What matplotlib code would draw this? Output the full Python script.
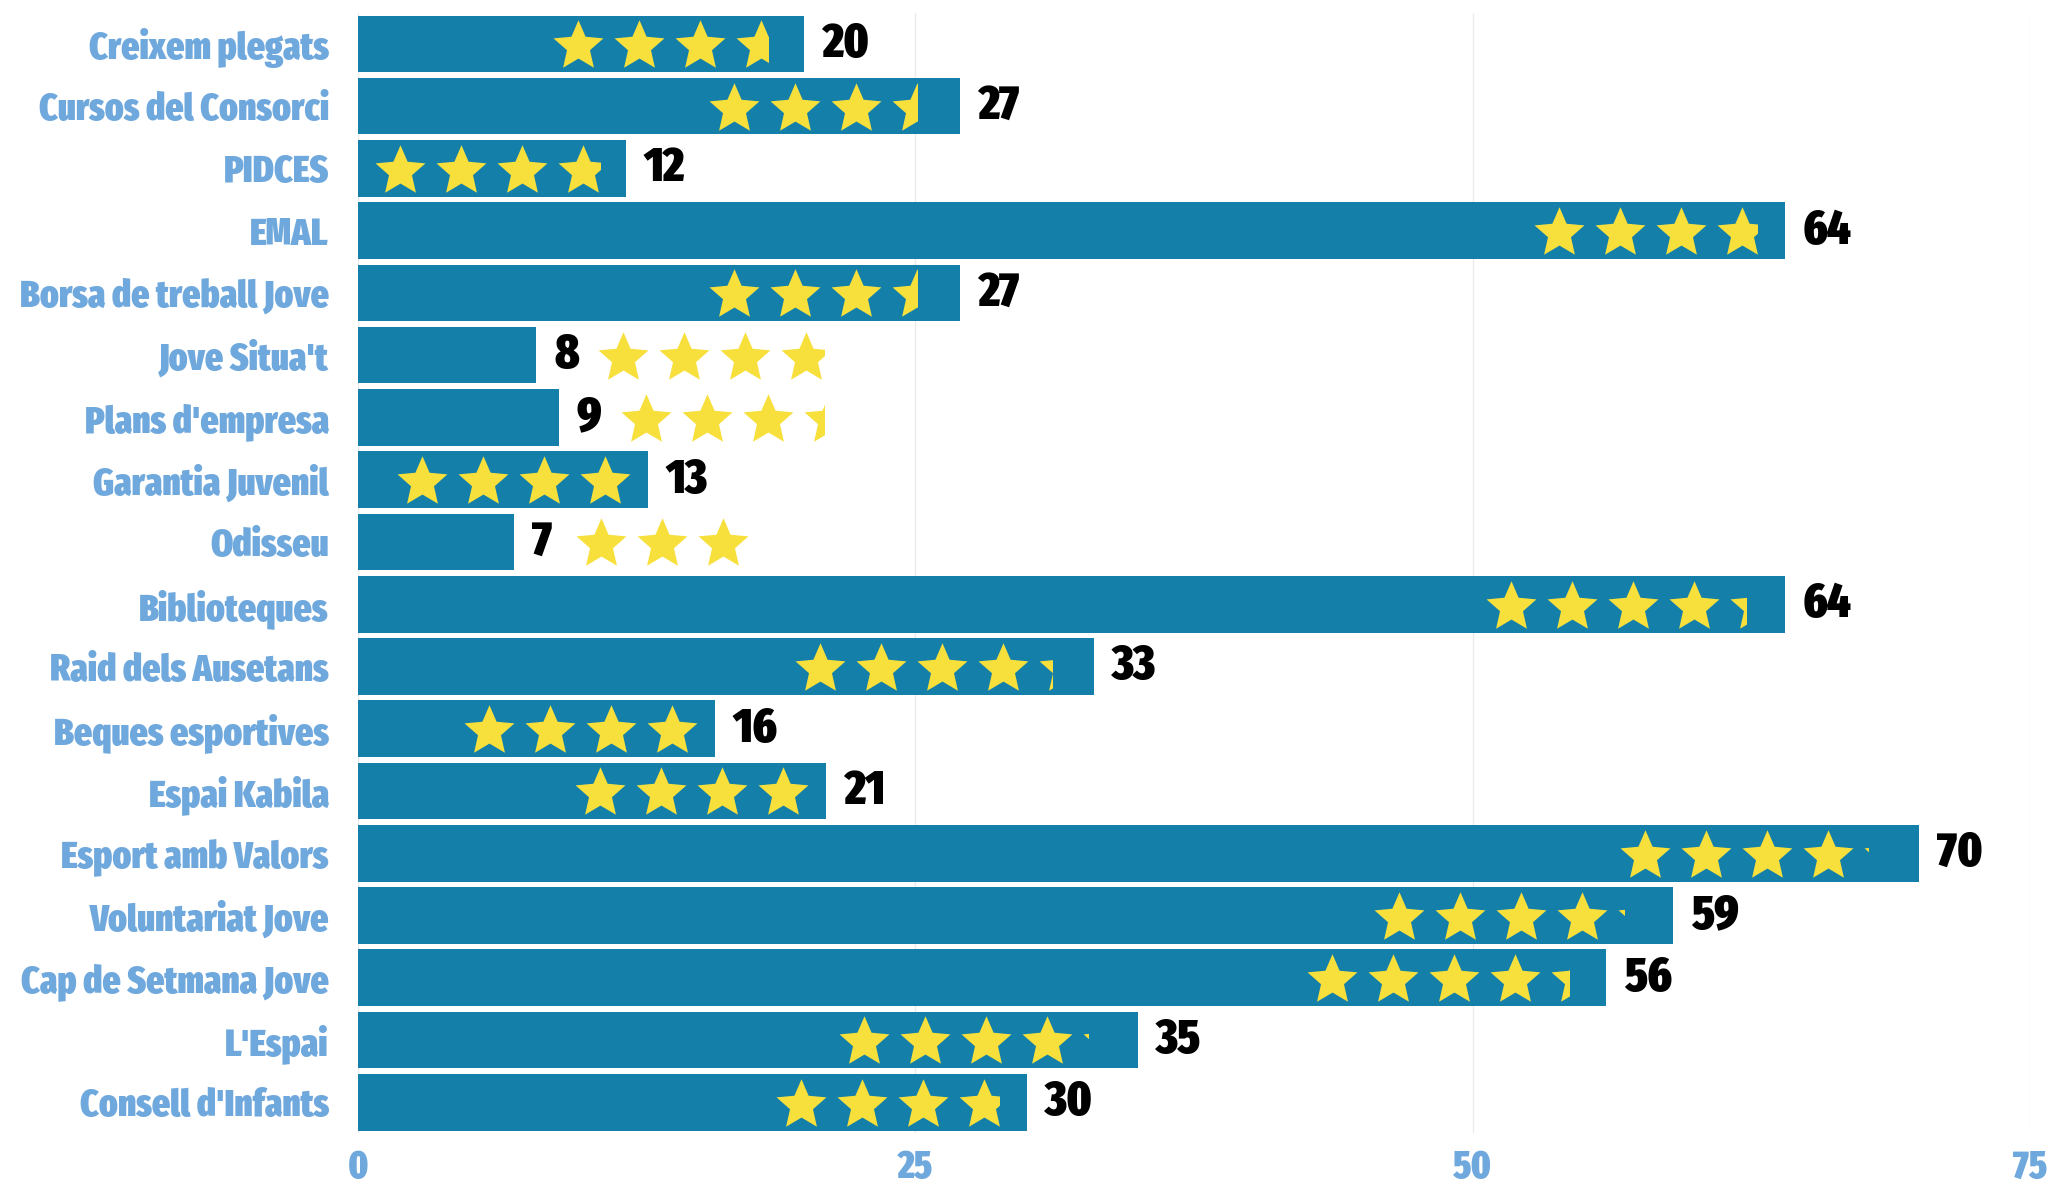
import math
import matplotlib
matplotlib.use("Agg")
import matplotlib.pyplot as plt
from matplotlib.patches import Rectangle
from matplotlib.path import Path
from matplotlib import font_manager as fm

categories = ["Creixem plegats", "Cursos del Consorci", "PIDCES", "EMAL",
              "Borsa de treball Jove", "Jove Situa't", "Plans d'empresa",
              "Garantia Juvenil", "Odisseu", "Biblioteques", "Raid dels Ausetans",
              "Beques esportives", "Espai Kabila", "Esport amb Valors",
              "Voluntariat Jove", "Cap de Setmana Jove", "L'Espai", "Consell d'Infants"]
values = [20, 27, 12, 64, 27, 8, 9, 13, 7, 64, 33, 16, 21, 70, 59, 56, 35, 30]
ratings = [3.65, 3.5, 3.85, 3.8, 3.5, 3.85, 3.4, 4.0, 3.0, 4.33, 4.26, 4.0, 4.0,
           4.08, 4.12, 4.36, 4.1, 3.8]
xticks = [0, 25, 50, 75]

BAR = "#147fa8"
STAR = "#f7e03c"
LBL = "#6fa8dc"

W, H, DPI = 2071, 1189, 100
fig = plt.figure(figsize=(W / DPI, H / DPI), dpi=DPI)
renderer = fig.canvas.get_renderer()

def text_w(fp, s):
    w, h, d = renderer.get_text_width_height_descent(s, fp, ismath=False)
    return w

def weight_of(f):
    if isinstance(f.weight, int):
        return f.weight
    return {"bold": 700, "normal": 400, "black": 900, "heavy": 900}.get(f.weight, 400)

# prefer heavy extra-condensed, then condensed, then narrow fonts
def pick_font():
    groups = [[], [], []]
    for f in fm.fontManager.ttflist:
        key = (f.name + " " + f.fname).lower().replace(" ", "").replace("-", "")
        if f.style != "normal" or "mono" in key or "italic" in key:
            continue
        if "extracondensed" in key or "ultracondensed" in key:
            groups[0].append(f)
        elif "semicondensed" in key:
            continue
        elif "condensed" in key or f.stretch == "condensed":
            groups[1].append(f)
        elif "narrow" in key:
            groups[2].append(f)
    for g in groups:
        heavy = [f for f in g if weight_of(f) >= 700]
        if heavy:
            return max(heavy, key=weight_of).fname
    for f in fm.fontManager.ttflist:
        if f.name == "DejaVu Sans" and weight_of(f) == 700 and f.style == "normal":
            return f.fname
    return fm.findfont(fm.FontProperties(family="DejaVu Sans", weight="bold"))

font_file = pick_font()

def FP(size):
    return fm.FontProperties(fname=font_file, size=size)

lab_size = min(27.5, 27.0 * 322.0 / max(text_w(FP(27), c) for c in categories))
val_size = min(40.0, 40.0 * 47.0 / text_w(FP(40), "20"))
tick_size = 28

ax_left, ax_right = 358 / W, 2030 / W
ax_bottom, ax_top = 1 - 1133.4 / H, 1 - 12.7 / H
ax = fig.add_axes([ax_left, ax_bottom, ax_right - ax_left, ax_top - ax_bottom])

y = list(range(len(categories)))
ax.barh(y, values, height=0.91, color=BAR, zorder=2)
ax.set_xlim(0, 75)
ax.set_ylim(len(categories) - 0.5, -0.5)

ax.set_xticks(xticks)
ax.set_xticklabels([str(t) for t in xticks], fontproperties=FP(tick_size), color=LBL)
ax.set_yticks(y)
ax.set_yticklabels(categories, fontproperties=FP(lab_size), color=LBL)
ax.tick_params(axis="both", length=0)
ax.tick_params(axis="y", pad=21)
ax.tick_params(axis="x", pad=11)
for s in ax.spines.values():
    s.set_visible(False)
ax.grid(axis="x", color="#ebebeb", linewidth=1.0, zorder=0)
ax.set_axisbelow(True)

px_per_unit = (ax_right - ax_left) * W / 75.0
def px(n):
    return n / px_per_unit

star_path = Path.unit_regular_star(5, 0.46)
size_px = 52.5
size_pt = size_px * 72 / DPI
star_w = px(0.951 * size_px)
spacing = px(61)

for i, (v, r) in enumerate(zip(values, ratings)):
    slots = int(math.ceil(r - 1e-9))
    needed = px((slots - 1) * 61 + 50 + (18 if slots <= 4 else 5) + 10)
    inside = v >= needed
    ax.text(v + px(18), i, str(v), ha="left", va="center",
            fontproperties=FP(val_size), color="black", zorder=4)
    if inside:
        pad = 18 if slots <= 4 else 5
        last_c = v - px(pad) - star_w / 2
        centers = [last_c - (slots - 1 - k) * spacing for k in range(slots)]
    else:
        first_c = v + px(87)
        centers = [first_c + k * spacing for k in range(slots)]
    for k, cx in enumerate(centers):
        frac = min(1.0, r - k)
        sc = ax.scatter([cx], [i + 0.04], marker=star_path, s=size_pt ** 2, color=STAR,
                        linewidths=0, zorder=3)
        if frac < 0.999:
            left = cx - star_w / 2
            rect = Rectangle((left, i - 0.5), frac * star_w, 1.0, transform=ax.transData)
            sc.set_clip_path(rect)

fig.savefig("out.png", dpi=DPI, facecolor="white")
